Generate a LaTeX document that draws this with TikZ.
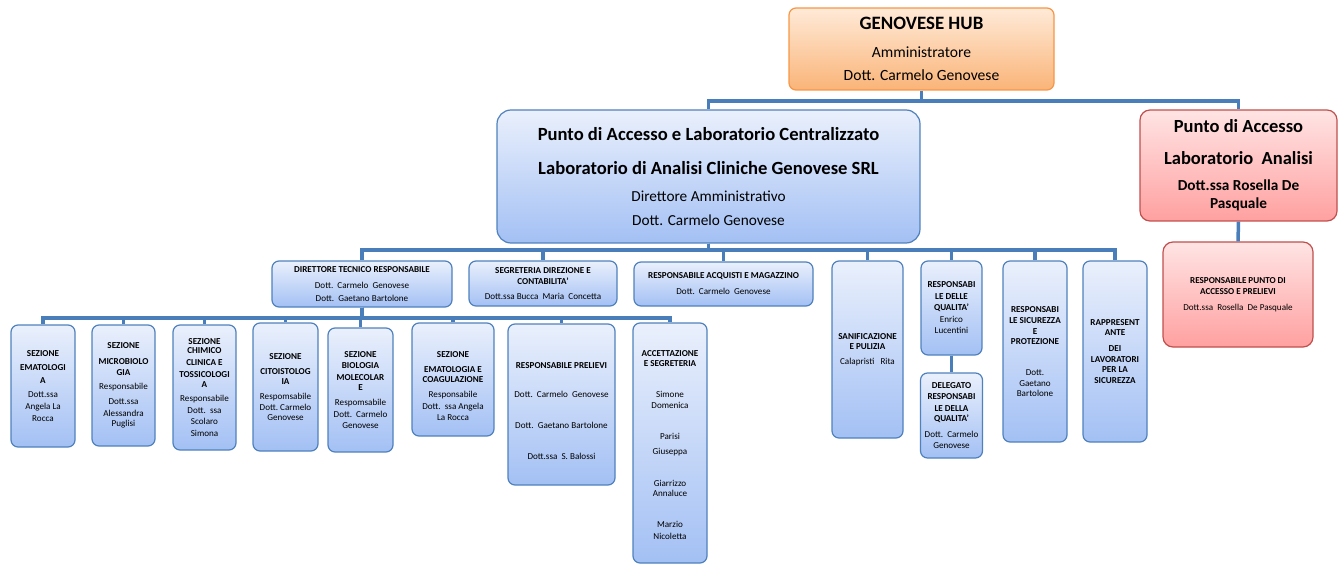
\documentclass[tikz,border=0pt]{standalone}
\usepackage{fontspec}
\setmainfont{Carlito}
\definecolor{bluebd}{RGB}{79,129,189}
\definecolor{bluetop}{RGB}{234,240,252}
\definecolor{bluebot}{RGB}{163,192,244}
\definecolor{redbd}{RGB}{192,80,77}
\definecolor{redtop}{RGB}{255,228,228}
\definecolor{redbot}{RGB}{255,160,160}
\definecolor{orbd}{RGB}{247,150,70}
\definecolor{ortop}{RGB}{255,234,216}
\definecolor{orbot}{RGB}{250,180,120}
\definecolor{connc}{RGB}{74,126,187}
\newcommand\smallf{\fontsize{9.1}{10.5}\selectfont}
\tikzset{
  box/.style={draw=bluebd, line width=1.2pt, top color=bluetop, bottom color=bluebot,
    rounded corners=7pt, inner sep=0pt, align=center, font=\smallf},
  redbox/.style={box, draw=redbd, top color=redtop, bottom color=redbot},
  orbox/.style={box, draw=orbd, top color=ortop, bottom color=orbot},
  conn/.style={draw=connc, line width=3.5pt},
}
\begin{document}
\begin{tikzpicture}[x=1pt,y=-1pt]
\useasboundingbox (0,0) rectangle (1344,564);
% top level
\node[orbox, minimum width=265pt, minimum height=82pt, font=\fontsize{15.6}{23}\selectfont] (hub) at (921.5,49)
  {{\fontsize{18.9}{20}\selectfont\bfseries GENOVESE HUB}\\[5pt] Amministratore\\ Dott. Carmelo Genovese};
\node[box, rounded corners=14pt, minimum width=423pt, minimum height=133pt, font=\fontsize{15.3}{24}\selectfont] (main) at (708.5,176.5)
  {{\fontsize{18.6}{20}\selectfont\bfseries Punto di Accesso e Laboratorio Centralizzato}\\[10pt]
   {\fontsize{18.6}{20}\selectfont\bfseries Laboratorio di Analisi Cliniche Genovese SRL}\\[3pt]
   Direttore Amministrativo\\ Dott. Carmelo Genovese};
\node[redbox, rounded corners=10pt, minimum width=197pt, minimum height=111pt, font=\fontsize{15.3}{18}\selectfont\bfseries] (red1) at (1238.5,165.5)
  {{\fontsize{18.5}{20}\selectfont Punto di Accesso}\\[14pt]
   {\fontsize{18.5}{20}\selectfont Laboratorio\ \ Analisi}\\[8pt]
   Dott.ssa Rosella De\\ Pasquale};
\node[redbox, rounded corners=10pt, minimum width=150pt, minimum height=105pt] (red2) at (1238,294.5)
  {\textbf{RESPONSABILE PUNTO DI}\\ \textbf{ACCESSO E PRELIEVI}\\[5.5pt] Dott.ssa\ \ Rosella\ \ De Pasquale};
% second level
\node[box, minimum width=180pt, minimum height=46pt] (dir) at (362,284)
  {\textbf{DIRETTORE TECNICO RESPONSABILE}\\[5.5pt] Dott.\ \ Carmelo\ \ Genovese\\[2.5pt] Dott.\ \ Gaetano Bartolone};
\node[box, minimum width=148pt, minimum height=45pt] (seg) at (543,283.5)
  {\textbf{SEGRETERIA DIREZIONE E}\\ \textbf{CONTABILITA'}\\[4.5pt] Dott.ssa\ Bucca\ \ Maria\ \ Concetta};
\node[box, minimum width=179pt, minimum height=44pt] (acq) at (723.5,284)
  {\textbf{RESPONSABILE ACQUISTI E MAGAZZINO}\\[5.5pt] Dott.\ \ Carmelo\ \ Genovese};
\node[box, minimum width=71pt, minimum height=177pt] (san) at (867.5,349.5)
  {\textbf{SANIFICAZIONE}\\ \textbf{E PULIZIA}\\[4.5pt] Calapristi\ \ \ Rita};
\node[box, minimum width=61pt, minimum height=94pt] (qual) at (951.5,308)
  {\textbf{RESPONSABI}\\[1pt] \textbf{LE DELLE}\\[1pt] \textbf{QUALITA'}\\[1pt] Enrico\\[1pt] Lucentini};
\node[box, minimum width=62pt, minimum height=85pt] (del) at (951.5,415.5)
  {\textbf{DELEGATO}\\ \textbf{RESPONSABI}\\[1.5pt] \textbf{LE DELLA}\\ \textbf{QUALITA'}\\[5.5pt] Dott.\ \ Carmelo\\ Genovese};
\node[box, minimum width=64pt, minimum height=181pt] (sic) at (1035,351.5)
  {\textbf{RESPONSABI}\\[0.5pt] \textbf{LE SICUREZZA}\\[0.5pt] \textbf{E}\\ \textbf{PROTEZIONE}\\[20.5pt] Dott.\\ Gaetano\\ Bartolone};
\node[box, minimum width=64pt, minimum height=181pt] (rap) at (1115,351.5)
  {\textbf{RAPPRESENT}\\ \textbf{ANTE}\\[5.5pt] \textbf{DEI}\\ \textbf{LAVORATORI}\\ \textbf{PER LA}\\ \textbf{SICUREZZA}};
% third level
\node[box, minimum width=64pt, minimum height=122pt] (s1) at (43,386)
  {\textbf{SEZIONE}\\[3.5pt] \textbf{EMATOLOGI}\\[2.5pt] \textbf{A}\\[3.5pt] Dott.ssa\\[1.5pt] Angela La\\[1.5pt] Rocca};
\node[box, minimum width=63pt, minimum height=121pt] (s2) at (123.5,385.5)
  {\textbf{SEZIONE}\\[5.5pt] \textbf{MICROBIOLO}\\ \textbf{GIA}\\[3.5pt] Responsabile\\[4.5pt] Dott.ssa\\[1.5pt] Alessandra\\ Puglisi};
\node[box, minimum width=63pt, minimum height=125pt] (s3) at (204.5,387.5)
  {\textbf{SEZIONE}\\[-1.5pt] \textbf{CHIMICO}\\[1.5pt] \textbf{CLINICA E}\\[1.5pt] \textbf{TOSSICOLOGI}\\ \textbf{A}\\[3.5pt] Responsabile\\[1.5pt] Dott.\ \ ssa\\ Scolaro\\[1.5pt] Simona};
\node[box, minimum width=65pt, minimum height=128pt] (s4) at (285.5,387)
  {\textbf{SEZIONE}\\[4.5pt] \textbf{CITOISTOLOG}\\ \textbf{IA}\\[4.5pt] Respomsabile\\ Dott.\ Carmelo\\ Genovese};
\node[box, minimum width=65pt, minimum height=124pt] (s5) at (360.5,390)
  {\textbf{SEZIONE}\\ \textbf{BIOLOGIA}\\[1.5pt] \textbf{MOLECOLAR}\\ \textbf{E}\\[4.5pt] Respomsabile\\[1.5pt] Dott.\ \ Carmelo\\ Genovese};
\node[box, minimum width=82pt, minimum height=113pt] (s6) at (453,379.5)
  {\rule{0pt}{18.5pt}\textbf{SEZIONE}\\[4.5pt] \textbf{EMATOLOGIA E}\\ \textbf{COAGULAZIONE}\\[4.5pt] Responsabile\\[1.5pt] Dott.\ \ ssa Angela\\ La Rocca};
\node[box, minimum width=107pt, minimum height=161pt] (s7) at (561.5,404.5)
  {\rule{0pt}{19.5pt}\textbf{RESPONSABILE PRELIEVI}\\[18.5pt] Dott.\ \ Carmelo\ \ Genovese\\[20.5pt] Dott.\ \ Gaetano\ Bartolone\\[20.5pt] Dott.ssa\ \ S.\ Balossi};
\node[box, minimum width=74pt, minimum height=240pt] (s8) at (670,443)
  {\rule{0pt}{10.5pt}\textbf{ACCETTAZIONE}\\ \textbf{E SEGRETERIA}\\[20.5pt] Simone\\ Domenica\\[20.5pt] Parisi\\[4.5pt] Giuseppa\\[21.5pt] Giarrizzo\\ Annaluce\\[20.5pt] Marzio\\[1.5pt] Nicoletta};
% connectors
\coordinate (b1) at (0,101);
\coordinate (b2) at (0,250);
\coordinate (b3) at (0,318);
\draw[conn] (hub.south) -- (hub.south |- b1) -| (main.north);
\draw[conn] (hub.south |- b1) -| (red1.north);
\draw[conn] (red1.south) -- (red2.north);
\foreach \c in {dir,seg,acq,san,qual,sic,rap}
  \draw[conn] (main.south) -- (main.south |- b2) -| (\c.north);
\draw[conn] (qual.south) -- (del.north);
\foreach \c in {s1,s2,s3,s4,s5,s6,s7,s8}
  \draw[conn] (dir.south) -- (dir.south |- b3) -| (\c.north);
\end{tikzpicture}
\end{document}
